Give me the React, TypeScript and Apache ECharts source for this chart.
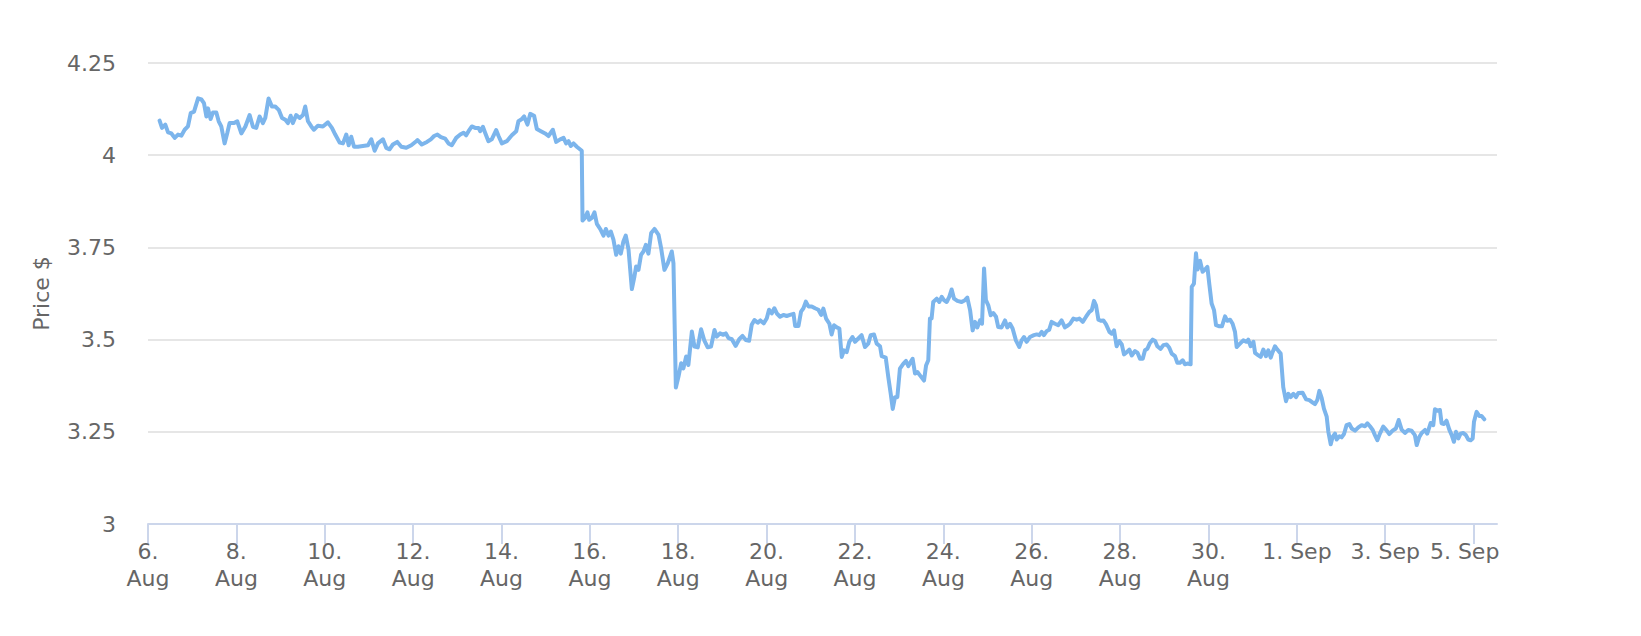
import React, { useEffect, useRef } from "react";
import * as echarts from "echarts";

// hours since 6 Aug 00:00
const hours = [
  6.3, 7.6, 9.4, 10.9, 12.7, 14.5, 16.3, 18.1, 19.9, 21.7, 23.2, 25.0, 27.2, 29.0, 30.4, 31.7, 32.6, 34.0, 35.3, 37.1,
  38.4, 39.8, 41.6, 43.1, 44.3, 46.7, 48.5, 50.7, 52.9, 55.2, 57.0, 58.8, 60.6, 62.4, 63.7, 65.5, 67.3, 69.1, 71.0, 72.8,
  74.6, 76.0, 77.5, 78.7, 80.5, 82.4, 84.2, 85.4, 86.9, 88.7, 90.1, 92.3, 95.0, 97.7, 99.9, 101.7, 104.1, 105.9, 107.7, 109.0,
  110.4, 111.9, 114.0, 116.7, 119.5, 121.3, 123.1, 124.9, 127.6, 129.4, 131.2, 133.0, 135.4, 137.6, 140.3, 143.0, 145.7,
  146.4, 148.7, 151.5, 153.6, 155.4, 157.2, 159.1, 161.4, 163.2, 165.0, 167.4, 169.6, 171.4, 172.8, 174.1, 175.9, 177.7, 179.5,
  180.4, 181.9, 183.1, 184.9, 186.7, 189.1, 190.4, 192.2, 194.9, 197.6, 200.0, 201.2, 203.0, 204.3, 206.1, 207.6, 209.7, 211.2,
  213.4, 215.7, 217.5, 219.9, 221.7, 223.9, 225.7, 227.1, 228.4, 229.6, 231.1, 232.9, 235.6,
  236.0, 237.4, 238.7, 239.6, 241.1, 242.5, 243.8, 245.6, 247.4, 248.7, 250.1, 251.4, 252.8, 254.3, 255.5, 256.8, 258.2, 259.5,
  261.0, 262.8, 264.2, 265.1, 266.4, 267.8, 269.1, 270.4, 271.8, 273.3, 275.1, 277.3, 278.7, 280.5, 282.3, 284.5, 285.4, 286.7,
  288.1, 289.6, 290.8, 292.3, 293.5, 295.4, 296.8, 298.6, 300.4, 302.2, 304.0, 305.8, 307.7, 308.9, 310.7, 312.5, 313.8, 315.3,
  317.1, 319.2, 321.1, 322.9, 324.7, 326.5, 327.9, 329.4, 331.2, 332.6, 334.4, 336.1, 337.3, 338.8, 340.2, 341.7, 343.3, 345.1,
  346.9, 348.7, 350.6, 351.5, 353.3, 354.7, 356.0, 357.3, 358.7, 360.5, 362.3, 364.1, 365.6, 366.8,
  368.3, 370.1, 371.3, 372.6, 374.1, 375.5, 376.8, 378.0, 379.5, 380.9, 382.6, 384.0, 385.8, 387.6, 389.4, 391.2, 392.5, 394.3,
  395.8, 397.6, 398.5, 400.7, 402.1, 403.4, 404.5, 405.7, 407.0, 408.4, 410.3, 411.7, 413.0, 414.2, 415.3, 416.6, 417.9, 419.3,
  421.5, 422.6, 423.8, 424.7, 425.6, 426.5, 428.4, 429.8, 431.1, 432.3, 433.8, 435.2, 436.5, 437.8, 439.6, 441.9, 443.7, 445.0,
  446.5, 447.9, 449.2, 450.4, 451.9, 453.0, 454.1, 455.1, 456.4, 457.7, 459.1, 460.6, 461.8, 463.6, 465.5, 466.7, 468.2, 469.6,
  471.4, 473.2, 474.5, 475.8, 477.2, 479.0, 481.2, 482.7, 484.1, 485.4, 486.6, 488.1, 489.5, 490.8, 492.6, 494.4, 496.2, 498.0,
  499.8, 500.8, 502.6, 504.4, 505.9, 507.7, 509.5, 511.3, 512.6, 513.8, 514.9, 516.2, 517.5, 518.9, 520.3, 522.2, 523.4, 524.7,
  526.1, 527.6, 528.9, 530.1, 531.6, 533.0, 534.3, 536.1, 537.5, 538.8, 540.3, 541.5, 542.8, 544.2, 545.7, 547.0, 548.2, 550.0,
  551.5, 553.3, 554.7, 556.0, 557.8, 559.1, 560.5, 562.0, 563.2, 564.5, 566.3, 566.9, 568.1, 569.2, 570.1, 571.4, 572.8, 574.1,
  575.4, 576.5, 577.7, 579.0, 580.1, 581.9, 583.3, 585.0, 586.2, 587.7, 589.1, 590.4, 591.3, 593.1, 594.9, 596.7, 597.6, 598.9,
  600.4, 601.3, 603.1, 604.3, 605.8, 607.2, 608.5, 609.8, 610.8, 612.1, 613.4, 615.2, 616.6, 618.1, 619.4, 620.6, 622.1, 623.5,
  624.8, 627.1, 629.0, 630.8, 632.6, 633.8, 635.1, 636.2, 637.5, 638.7, 640.2, 641.1, 642.4, 643.4, 644.7, 645.6, 647.1, 648.3,
  649.6, 651.0, 652.5, 653.8, 655.6, 657.4, 659.2, 661.0, 662.3, 663.7, 665.2, 666.4, 667.7, 669.1, 670.9, 672.4, 674.2, 676.0,
  677.8, 679.3, 680.9, 682.7, 684.5, 686.3, 688.1, 689.1, 690.5, 691.8, 693.6, 694.8, 696.7, 698.1, 699.0, 700.3, 701.7, 702.6,
  703.9, 705.3, 706.8, 708.1, 709.3, 710.4, 711.7, 712.9, 714.4, 715.8, 717.1, 718.4, 719.5, 720.2, 721.6, 723.1, 724.3, 725.8,
];

const prices = [
  4.094, 4.074, 4.083, 4.062, 4.059, 4.047, 4.056, 4.053, 4.069, 4.078, 4.114, 4.118, 4.154, 4.151, 4.141, 4.105, 4.127, 4.098, 4.116, 4.116,
  4.092, 4.078, 4.032, 4.061, 4.087, 4.087, 4.092, 4.059, 4.078, 4.109, 4.077, 4.074, 4.105, 4.087, 4.101, 4.154, 4.132, 4.132, 4.123, 4.101,
  4.096, 4.087, 4.107, 4.087, 4.109, 4.101, 4.109, 4.132, 4.092, 4.078, 4.069, 4.08, 4.078, 4.089, 4.074, 4.056, 4.034, 4.032, 4.056, 4.027,
  4.05, 4.023, 4.023, 4.025, 4.027, 4.043, 4.012, 4.032, 4.043, 4.02, 4.016, 4.029, 4.036, 4.023, 4.02, 4.027, 4.038,
  4.041, 4.029, 4.036, 4.043, 4.052, 4.056, 4.049, 4.045, 4.032, 4.027, 4.047, 4.056, 4.061, 4.054, 4.065, 4.078, 4.074, 4.074,
  4.065, 4.077, 4.061, 4.038, 4.043, 4.068, 4.052, 4.032, 4.038, 4.054, 4.065, 4.092, 4.098, 4.105, 4.083, 4.112, 4.107, 4.071,
  4.065, 4.059, 4.052, 4.069, 4.036, 4.043, 4.047, 4.032, 4.038, 4.025, 4.032, 4.023, 4.012,
  3.823, 3.83, 3.845, 3.825, 3.83, 3.845, 3.814, 3.8, 3.782, 3.8, 3.782, 3.793, 3.771, 3.73, 3.753, 3.733, 3.766, 3.782,
  3.744, 3.637, 3.671, 3.698, 3.689, 3.73, 3.739, 3.757, 3.733, 3.789, 3.8, 3.784, 3.748, 3.689, 3.707, 3.739, 3.707, 3.37,
  3.399, 3.436, 3.422, 3.454, 3.431, 3.522, 3.481, 3.479, 3.528, 3.497, 3.479, 3.481, 3.526, 3.508, 3.517, 3.513, 3.517, 3.504,
  3.501, 3.483, 3.501, 3.51, 3.499, 3.497, 3.54, 3.553, 3.546, 3.552, 3.544, 3.558, 3.581, 3.571, 3.585, 3.57, 3.562, 3.567,
  3.564, 3.567, 3.57, 3.537, 3.537, 3.576, 3.585, 3.603, 3.59, 3.59, 3.585, 3.581, 3.567, 3.584,
  3.557, 3.543, 3.514, 3.539, 3.533, 3.53, 3.453, 3.471, 3.466, 3.494, 3.507, 3.494, 3.503, 3.512, 3.48, 3.489, 3.512, 3.514,
  3.489, 3.482, 3.455, 3.451, 3.398, 3.353, 3.312, 3.344, 3.344, 3.421, 3.435, 3.442, 3.428, 3.439, 3.448, 3.408, 3.412, 3.403,
  3.389, 3.43, 3.444, 3.557, 3.557, 3.602, 3.611, 3.602, 3.616, 3.607, 3.602, 3.616, 3.636, 3.611, 3.605, 3.602, 3.607, 3.614,
  3.58, 3.525, 3.548, 3.533, 3.552, 3.543, 3.693, 3.607, 3.593, 3.566, 3.572, 3.562, 3.534, 3.533, 3.552, 3.533, 3.543, 3.53,
  3.498, 3.48, 3.498, 3.507, 3.494, 3.507, 3.512, 3.514, 3.512, 3.521, 3.512, 3.523, 3.527, 3.548, 3.543, 3.539, 3.552, 3.533,
  3.539, 3.543, 3.557, 3.554, 3.557, 3.548, 3.562, 3.575, 3.58, 3.605, 3.593, 3.554, 3.551, 3.552, 3.542, 3.521, 3.516, 3.525,
  3.482, 3.496, 3.487, 3.46, 3.466, 3.473, 3.457, 3.469, 3.464, 3.448, 3.448, 3.471, 3.475, 3.491, 3.5, 3.496, 3.482, 3.475,
  3.485, 3.487, 3.478, 3.462, 3.455, 3.437, 3.437, 3.444, 3.433, 3.435, 3.433, 3.643, 3.652, 3.734, 3.69, 3.714, 3.684, 3.69,
  3.697, 3.648, 3.598, 3.58, 3.539, 3.536, 3.536, 3.563, 3.551, 3.554, 3.543, 3.521, 3.48, 3.489, 3.498, 3.494, 3.5, 3.482,
  3.494, 3.464, 3.457, 3.453, 3.473, 3.455, 3.471, 3.451, 3.466, 3.482, 3.473, 3.462, 3.371, 3.333, 3.353, 3.344, 3.353, 3.344,
  3.355, 3.356, 3.338, 3.336, 3.329, 3.325, 3.336, 3.361, 3.341, 3.313, 3.291, 3.25, 3.216, 3.236, 3.245, 3.229, 3.238, 3.235,
  3.244, 3.268, 3.271, 3.259, 3.253, 3.262, 3.268, 3.265, 3.273, 3.265, 3.255, 3.241, 3.227, 3.245, 3.264, 3.256, 3.244, 3.253,
  3.259, 3.282, 3.256, 3.247, 3.255, 3.253, 3.241, 3.214, 3.236, 3.247, 3.255, 3.245, 3.274, 3.268, 3.311, 3.307, 3.309, 3.273,
  3.271, 3.28, 3.256, 3.241, 3.223, 3.25, 3.232, 3.245, 3.247, 3.241, 3.229, 3.227, 3.232, 3.277, 3.304, 3.293, 3.293, 3.284,
];

// one tick every two days, from 6 Aug
const tickLabels = [
  "6.\nAug", "8.\nAug", "10.\nAug", "12.\nAug", "14.\nAug", "16.\nAug", "18.\nAug", "20.\nAug",
  "22.\nAug", "24.\nAug", "26.\nAug", "28.\nAug", "30.\nAug", "1. Sep", "3. Sep", "5. Sep",
];
const tickHours = tickLabels.map((_, i) => i * 48);
const axisEndHours = 732.7;

const FONT = "DejaVu Sans";

const App: React.FC = () => {
  const chartRef = useRef<HTMLDivElement>(null);

  useEffect(() => {
    if (!chartRef.current) return;
    const chart = echarts.init(chartRef.current, undefined, { renderer: "svg" });

    const option: any = {
      animation: false,
      backgroundColor: "#ffffff",
      grid: { left: 148, right: 144, top: 63, bottom: 112 },
      xAxis: {
        type: "value",
        min: 0,
        max: axisEndHours,
        splitLine: { show: false },
        axisLine: { lineStyle: { color: "#ccd6eb", width: 2 } },
        axisTick: {
          length: 20,
          lineStyle: { color: "#ccd6eb", width: 2 },
          customValues: tickHours,
        },
        axisLabel: {
          customValues: tickHours,
          margin: 14,
          color: "#666666",
          fontFamily: FONT,
          fontSize: 22,
          lineHeight: 27,
          formatter: (v: number) => {
            const i = Math.round(v / 48);
            const text = tickLabels[i] ?? "";
            // last label is pushed inside the plot edge
            return i === tickLabels.length - 1 ? `{last|${text}}` : text;
          },
          rich: {
            last: {
              color: "#666666",
              fontFamily: FONT,
              fontSize: 22,
              lineHeight: 27,
              padding: [0, 18, 0, 0],
            },
          },
        },
      },
      yAxis: {
        type: "value",
        min: 3,
        max: 4.25,
        interval: 0.25,
        name: "Price $",
        nameLocation: "middle",
        nameRotate: 90,
        nameGap: 96,
        nameTextStyle: { color: "#666666", fontFamily: FONT, fontSize: 22 },
        axisLine: { show: false },
        axisTick: { show: false },
        splitLine: { lineStyle: { color: "#e6e6e6", width: 2 } },
        axisLabel: { margin: 32, color: "#666666", fontFamily: FONT, fontSize: 22 },
      },
      series: [
        {
          type: "line",
          data: hours.map((h, i) => [h, prices[i]]),
          showSymbol: false,
          lineStyle: { color: "#7cb5ec", width: 4, join: "round", cap: "round" },
          itemStyle: { color: "#7cb5ec" },
        },
      ],
    };

    chart.setOption(option);
    return () => {
      chart.dispose();
    };
  }, []);

  return (
    <div
      ref={chartRef}
      style={{ position: "fixed", left: 0, top: 0, width: 1641, height: 636 }}
    />
  );
};

export default App;
